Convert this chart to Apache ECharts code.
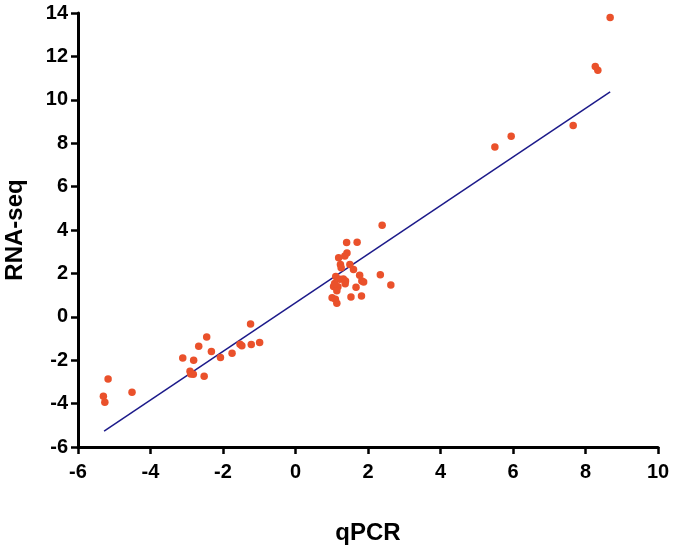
<!DOCTYPE html>
<html><head><meta charset="utf-8">
<script src="https://cdn.jsdelivr.net/npm/echarts@6/dist/echarts.min.js"></script>
<style>html,body{margin:0;padding:0;background:#fff}#c{width:675px;height:549px}</style>
</head><body><div id="c"></div>
<script>
var qpcr = [-5.30,-5.26,-5.17,-4.51,-3.11,-2.91,-2.89,-2.82,-2.81,-2.67,-2.52,-2.45,-2.32,-2.07,-1.75,-1.53,-1.48,-1.24,-1.22,-0.99,
  2.39,1.41,1.70,1.42,1.36,1.19,1.24,1.26,1.50,1.60,1.77,2.34,2.63,1.83,1.88,1.67,1.53,1.82,1.11,1.22,1.32,1.37,1.05,1.17,1.14,1.01,1.10,1.14,1.38,1.08,
  5.50,5.95,7.66,8.27,8.34,8.68];
var rnaseq = [-3.66,-3.94,-2.87,-3.48,-1.90,-2.51,-2.64,-2.65,-2.00,-1.36,-2.74,-0.93,-1.60,-1.87,-1.68,-1.27,-1.33,-0.33,-1.28,-1.19,
  4.22,3.42,3.43,2.94,2.80,2.72,2.41,2.26,2.41,2.18,1.92,1.94,1.47,1.65,1.60,1.36,0.91,0.96,1.86,1.73,1.74,1.52,1.40,1.38,1.20,0.88,0.81,0.62,1.65,1.53,
  7.83,8.32,8.81,11.54,11.36,13.79];
var fitX = [-5.28, 8.68];
var fitY = [-5.27, 10.36];
var xTicks = [-6,-4,-2,0,2,4,6,8,10];
var yTicks = [-6,-4,-2,0,2,4,6,8,10,12,14];

var pts = qpcr.map(function(x,i){return [x, rnaseq[i]];});
var fit = fitX.map(function(x,i){return [x, fitY[i]];});
var chart = echarts.init(document.getElementById('c'));
var font = 'Liberation Sans, Arial, sans-serif';
var axisCommon = {
  axisLine:{show:true,onZero:false,lineStyle:{color:'#000',width:3}},
  axisTick:{show:true,length:7,lineStyle:{color:'#000',width:2.5}},
  splitLine:{show:false},
  nameTextStyle:{color:'#000',fontSize:24,fontWeight:'bold',fontFamily:font}
};
chart.setOption({
  animation:false,
  backgroundColor:'#fff',
  grid:{left:78,right:17,top:13,bottom:102,containLabel:false,outerBoundsMode:'none'},
  xAxis:Object.assign({type:'value',min:-6,max:10,interval:2,name:'qPCR',nameLocation:'middle',nameGap:74},axisCommon,
    {axisLabel:{color:'#000',fontSize:20,fontWeight:'bold',fontFamily:font,margin:15}}),
  yAxis:Object.assign({type:'value',min:-6,max:14,interval:2,name:'RNA-seq',nameLocation:'middle',nameGap:51,nameRotate:90},axisCommon,
    {axisLabel:{color:'#000',fontSize:20,fontWeight:'bold',fontFamily:font,margin:10}}),
  series:[
    {type:'line',data:fit,showSymbol:false,symbol:'none',lineStyle:{color:'#1c1a8a',width:1.5},z:2},
    {type:'scatter',data:pts,symbolSize:7.5,itemStyle:{color:'#ea512b',opacity:1},z:3}
  ]
});
</script></body></html>
